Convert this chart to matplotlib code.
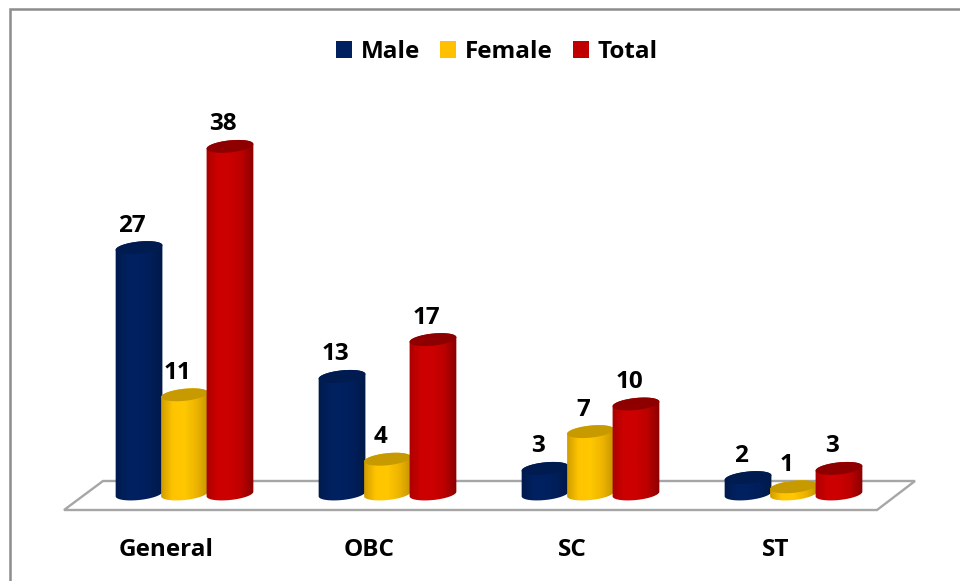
import matplotlib
matplotlib.use("Agg")
import matplotlib.pyplot as plt
import numpy as np
from matplotlib.colors import LinearSegmentedColormap
from matplotlib.lines import Line2D
from matplotlib.patches import Polygon, Rectangle

plt.rcParams['font.family'] = ['Open Sans', 'DejaVu Sans']
plt.rcParams['font.weight'] = 'bold'

# === Data ===
categories = ["General", "OBC", "SC", "ST"]
male = [27, 13, 3, 2]
female = [11, 4, 7, 1]
total = [38, 17, 10, 3]
series_names = ["Male", "Female", "Total"]

# === Scale: one category = 203 px, one unit = 9.2 px ===
PX_X = 203.0
PX_Y = 9.2
W, H = 960, 581
X0, Y0 = 184.5, 496   # pixel position of category 0, value 0
BASE = 0.22           # cylinders stand a little above value 0

fig = plt.figure(figsize=(9.6, 5.81), dpi=100)
ax = fig.add_axes([0, 0, 1, 1])
ax.axis('off')
xlim = (-X0 / PX_X, (W - X0) / PX_X)
ylim = ((Y0 - H) / PX_Y, Y0 / PX_Y)

# edge dark, middle full colour, edge darkest
styles = {
    "Male": (["#001A4E", "#00215F", "#002060", "#001E58", "#001846"], "#001B50", "#002060"),
    "Female": (["#CC9A00", "#FFC400", "#FFC800", "#EDB400", "#C49400"], "#C79A00", "#FFC000"),
    "Total": (["#A80000", "#CC0000", "#CC0000", "#BC0000", "#8A0000"], "#8E0000", "#C00000"),
}
offsets = [-0.224, 0.0, 0.224]
half_w = 23.5
half_h = 6.0
tilt = np.radians(6.0)


def ellipse(cx, v, t):
    # tilted ellipse around (cx, v), size in px, returned in data units
    xp = half_w * np.cos(t) * np.cos(tilt) - half_h * np.sin(t) * np.sin(tilt)
    yp = half_w * np.cos(t) * np.sin(tilt) + half_h * np.sin(t) * np.cos(tilt)
    return np.column_stack([cx + xp / PX_X, v + yp / PX_Y])


def cylinder(cx, value, name, z):
    colors, cap_color, _ = styles[name]
    cmap = LinearSegmentedColormap.from_list(name, colors)
    lower = ellipse(cx, BASE, np.linspace(np.pi, 2 * np.pi, 60))
    upper = ellipse(cx, value, np.linspace(0, np.pi, 60))
    outline = Polygon(np.vstack([lower, upper]), closed=True, transform=ax.transData,
                      facecolor='none', edgecolor='none')
    ax.add_patch(outline)
    img = ax.imshow(np.linspace(0, 1, 64).reshape(1, -1), cmap=cmap, aspect='auto',
                    extent=(cx - (half_w + 1) / PX_X, cx + (half_w + 1) / PX_X,
                            -1.5, value + 1.5), zorder=z)
    img.set_clip_path(outline)
    cap = Polygon(ellipse(cx, value, np.linspace(0, 2 * np.pi, 80)), closed=True,
                  facecolor=cap_color, edgecolor='none', zorder=z + 0.5)
    ax.add_patch(cap)


# === Floor ===
floor_px = [(64, 510), (877, 510), (915, 481), (103, 481)]
floor = [((x - X0) / PX_X, (Y0 - y) / PX_Y) for x, y in floor_px]
ax.add_patch(Polygon(floor, closed=True, facecolor='white', edgecolor='#A6A6A6',
                     linewidth=1.7, zorder=1))

# === Bars ===
z = 2
for i in range(len(categories)):
    for j, (name, vals) in enumerate(zip(series_names, [male, female, total])):
        cx = i + offsets[j]
        cylinder(cx, vals[i], name, z)
        ax.annotate(str(vals[i]), (cx, vals[i]), xytext=(-7, 22), textcoords='offset pixels',
                    ha='center', va='center', fontsize=17.5, color='black', zorder=50)
        z += 1

for i, cat in enumerate(categories):
    ax.annotate(cat, (i, 0), xytext=(-18, -54), textcoords='offset pixels',
                ha='center', va='center', fontsize=17.5, color='black')

ax.set_xlim(*xlim)
ax.set_ylim(*ylim)

# === Legend ===
handles = [Rectangle((0, 0), 1, 1, facecolor=styles[n][2], edgecolor='none') for n in series_names]
ax.legend(handles, series_names, loc='center', bbox_to_anchor=(497 / W, 1 - 52 / H),
          ncol=3, frameon=False, prop={'size': 17.5, 'weight': 'bold'},
          handlelength=0.66, handleheight=0.66, handletextpad=0.35, columnspacing=0.85)

# === Outer frame (left and top only, the rest is cut off) ===
fig.add_artist(Line2D([10 / W, 10 / W, 1], [0, 1 - 9 / H, 1 - 9 / H], color='#8C8C8C',
                      linewidth=1.8, solid_joinstyle='miter'))

fig.savefig('out.png', dpi=100, facecolor='white')
